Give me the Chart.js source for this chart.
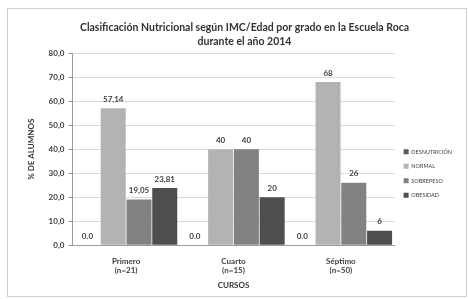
<!DOCTYPE html>
<html>
<head>
<meta charset="utf-8">
<script src="https://cdn.jsdelivr.net/npm/chart.js@4"></script>
<style>
  html, body { margin: 0; padding: 0; background: #fff; }
  #wrap { position: absolute; left: 7px; top: 8px; width: 460px; height: 289px; border: 1px solid #cfcfcf; box-sizing: border-box; }
  canvas { display: block; }
</style>
</head>
<body>
<div id="wrap"><canvas id="chart" width="458" height="287"></canvas></div>
<script>
// categories and series
const cursos = [['Primero', '(n=21)'], ['Cuarto', '(n=15)'], ['Séptimo', '(n=50)']];
const desnutricion = [0, 0, 0];
const normal = [57.14, 40, 68];
const sobrepeso = [19.05, 40, 26];
const obesidad = [23.81, 20, 6];
// labels as printed on the chart
const desnutricionLabels = ['0.0', '0.0', '0.0'];
const normalLabels = ['57,14', '40', '68'];
const sobrepesoLabels = ['19,05', '40', '26'];
const obesidadLabels = ['23,81', '20', '6'];
const yTickLabels = ['0,0', '10,0', '20,0', '30,0', '40,0', '50,0', '60,0', '70,0', '80,0'];

const FONT = 'Lato, "Liberation Sans", sans-serif';

// draws the value labels above bars (white box for zero values)
const valueLabels = {
    id: 'valueLabels',
    afterDatasetsDraw(chart) {
        const ctx = chart.ctx;
        ctx.save();
        ctx.font = 'bold 8px ' + FONT;
        ctx.textAlign = 'center';
        ctx.textBaseline = 'middle';
        chart.data.datasets.forEach((ds, i) => {
            const meta = chart.getDatasetMeta(i);
            meta.data.forEach((bar, j) => {
                const txt = ds.valueLabels[j];
                if (ds.data[j] === 0) {
                    const w = bar.width;
                    ctx.fillStyle = '#ffffff';
                    ctx.fillRect(bar.x - w / 2, bar.y - 19, w, 18);
                    ctx.fillStyle = '#404040';
                    ctx.fillText(txt, bar.x, bar.y - 9);
                } else {
                    ctx.fillStyle = '#404040';
                    ctx.fillText(txt, bar.x, bar.y - 9);
                }
            });
        });
        ctx.restore();
    }
};

new Chart(document.getElementById('chart'), {
    type: 'bar',
    data: {
        labels: cursos,
        datasets: [
            { label: 'DESNUTRICIÓN', data: desnutricion, valueLabels: desnutricionLabels, backgroundColor: '#5a5a5a' },
            { label: 'NORMAL', data: normal, valueLabels: normalLabels, backgroundColor: '#b3b3b3' },
            { label: 'SOBREPESO', data: sobrepeso, valueLabels: sobrepesoLabels, backgroundColor: '#828282' },
            { label: 'OBESIDAD', data: obesidad, valueLabels: obesidadLabels, backgroundColor: '#4e4e4e' }
        ]
    },
    options: {
        responsive: false,
        animation: false,
        devicePixelRatio: 1,
        layout: { padding: { left: 19, right: 4, top: 6, bottom: 6 } },
        datasets: { bar: { categoryPercentage: 0.96, barPercentage: 0.97 } },
        plugins: {
            title: {
                display: true,
                text: ['Clasificación Nutricional según IMC/Edad por grado en la Escuela Roca', 'durante el año 2014'],
                color: '#333333',
                font: { family: FONT, size: 10.5, weight: 'bold', lineHeight: 1.3 },
                padding: { top: 6, bottom: 5 }
            },
            legend: {
                position: 'right',
                title: { display: true, text: ' ', font: { size: 1 }, padding: { top: 0, bottom: 41 } },
                labels: {
                    boxWidth: 5,
                    boxHeight: 5,
                    padding: 9,
                    color: '#404040',
                    font: { family: FONT, size: 5.5 }
                }
            },
            tooltip: { enabled: false }
        },
        scales: {
            x: {
                grid: { display: false, drawTicks: true, offset: true },
                border: { color: '#9a9a9a' },
                ticks: { color: '#404040', font: { family: FONT, size: 8, weight: 'bold' }, padding: 3 },
                title: {
                    display: true,
                    text: 'CURSOS',
                    color: '#333333',
                    font: { family: FONT, size: 8, weight: 'bold' },
                    padding: { top: 2, bottom: 0 }
                }
            },
            y: {
                min: 0,
                max: 80,
                ticks: {
                    stepSize: 10,
                    color: '#404040',
                    font: { family: FONT, size: 8, weight: 'bold' },
                    padding: 4,
                    callback: (v, i) => yTickLabels[i]
                },
                grid: { color: '#d9d9d9', tickLength: 4, tickColor: '#9a9a9a' },
                border: { color: '#9a9a9a' },
                title: {
                    display: true,
                    text: '% DE ALUMNOS',
                    color: '#333333',
                    font: { family: FONT, size: 8, weight: 'bold' },
                    padding: { top: 0, bottom: 8 }
                }
            }
        }
    },
    plugins: [valueLabels]
});
</script>
</body>
</html>
